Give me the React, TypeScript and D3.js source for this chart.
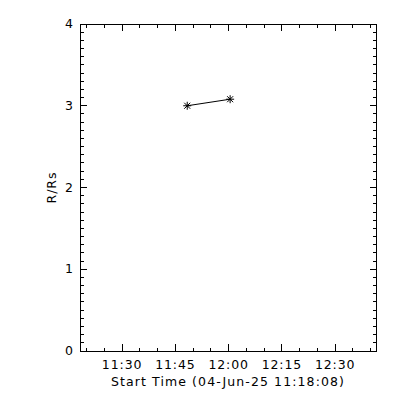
import React, { useEffect, useRef } from 'react';
import * as d3 from 'd3';

// observation times and heights (R/Rs)
const times = ['2025-06-04T11:48:20', '2025-06-04T12:00:25'];
const heights = [3.0, 3.08];

const xStart = '2025-06-04T11:18:08';
const xEnd = '2025-06-04T12:41:30';
const yTicks = [0, 1, 2, 3, 4];
const xLabel = 'Start Time (04-Jun-25 11:18:08)';
const yLabel = 'R/Rs';

const App = () => {
  const svgRef = useRef<SVGSVGElement>(null);

  useEffect(() => {
    const width = 400;
    const height = 400;
    const left = 80;
    const right = 376;
    const top = 24;
    const bottom = 351;
    const font = '"DejaVu Sans", sans-serif';

    const svg = d3.select(svgRef.current);
    svg.selectAll('*').remove();
    svg.attr('width', width).attr('height', height);

    svg.append('rect').attr('width', width).attr('height', height).attr('fill', '#fff');

    const x = d3.scaleTime()
      .domain([new Date(xStart), new Date(xEnd)])
      .range([left, right]);

    const y = d3.scaleLinear()
      .domain([0, 4])
      .range([bottom, top]);

    const xMajor = x.ticks(d3.timeMinute.every(15));
    const xMinor = x.ticks(d3.timeMinute.every(5));
    const yMinor = d3.range(0, 40).map(d => d / 10);

    const g = svg.append('g')
      .attr('stroke', '#000')
      .attr('stroke-width', 1)
      .attr('shape-rendering', 'crispEdges');

    // box
    g.append('rect')
      .attr('x', left)
      .attr('y', top)
      .attr('width', right - left)
      .attr('height', bottom - top)
      .attr('fill', 'none');

    // x ticks (bottom and top)
    const xTick = (d: Date, len: number) => {
      g.append('line').attr('x1', x(d)).attr('x2', x(d)).attr('y1', bottom).attr('y2', bottom - len);
      g.append('line').attr('x1', x(d)).attr('x2', x(d)).attr('y1', top).attr('y2', top + len);
    };
    xMinor.forEach(d => xTick(d, 3.5));
    xMajor.forEach(d => xTick(d, 7));

    // y ticks (left and right)
    const yTick = (v: number, len: number) => {
      g.append('line').attr('x1', left).attr('x2', left + len).attr('y1', y(v)).attr('y2', y(v));
      g.append('line').attr('x1', right).attr('x2', right - len).attr('y1', y(v)).attr('y2', y(v));
    };
    yMinor.forEach(v => yTick(v, 3.5));
    yTicks.forEach(v => yTick(v, 6.5));

    const fmt = d3.timeFormat('%H:%M');
    svg.append('g')
      .selectAll('text')
      .data(xMajor)
      .join('text')
      .attr('x', d => x(d))
      .attr('y', 369)
      .attr('text-anchor', 'middle')
      .attr('font-family', font)
      .attr('font-size', 12.5)
      .attr('letter-spacing', 0.9)
      .text(d => fmt(d));

    svg.append('g')
      .selectAll('text')
      .data(yTicks)
      .join('text')
      .attr('x', 73)
      .attr('y', d => y(d) + 4)
      .attr('text-anchor', 'end')
      .attr('font-family', font)
      .attr('font-size', 12.5)
      .text(d => String(d));

    svg.append('text')
      .attr('x', (left + right) / 2)
      .attr('y', 386)
      .attr('text-anchor', 'middle')
      .attr('font-family', font)
      .attr('font-size', 12.5)
      .attr('letter-spacing', 1.1)
      .text(xLabel);

    svg.append('text')
      .attr('transform', `translate(56,${(top + bottom) / 2}) rotate(-90)`)
      .attr('text-anchor', 'middle')
      .attr('font-family', font)
      .attr('font-size', 12.5)
      .attr('letter-spacing', 1)
      .text(yLabel);

    // data line
    const pts = times.map((t, i) => [x(new Date(t)), y(heights[i])] as [number, number]);
    svg.append('path')
      .attr('d', d3.line()(pts))
      .attr('fill', 'none')
      .attr('stroke', '#000')
      .attr('stroke-width', 1);

    // asterisk markers
    const star = svg.append('g').attr('stroke', '#000').attr('stroke-width', 1);
    pts.forEach(([px, py]) => {
      star.append('line').attr('x1', px - 4).attr('x2', px + 4).attr('y1', py).attr('y2', py);
      star.append('line').attr('x1', px).attr('x2', px).attr('y1', py - 4).attr('y2', py + 4);
      star.append('line').attr('x1', px - 3).attr('x2', px + 3).attr('y1', py - 3).attr('y2', py + 3);
      star.append('line').attr('x1', px - 3).attr('x2', px + 3).attr('y1', py + 3).attr('y2', py - 3);
    });
  }, []);

  return (
    <svg ref={svgRef} style={{ position: 'absolute', left: 0, top: 0 }}></svg>
  );
};

export default App;
